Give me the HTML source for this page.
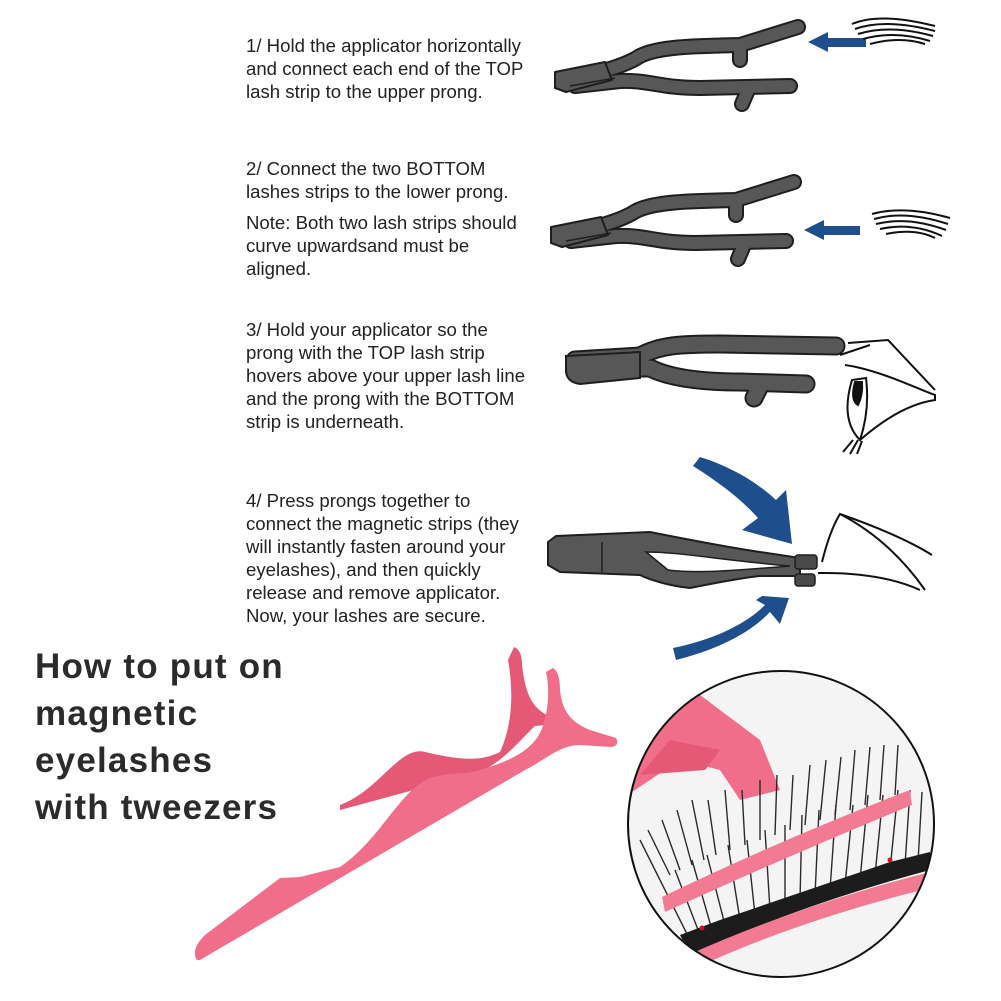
<!DOCTYPE html>
<html><head><meta charset="utf-8"><style>
html,body{margin:0;padding:0;background:#fff;}
body{width:1001px;height:1001px;position:relative;overflow:hidden;}
.t{position:absolute;left:246px;font-family:"Liberation Sans",sans-serif;font-size:18.6px;line-height:23px;color:#222;white-space:nowrap;}
.h{position:absolute;left:35px;font-family:"Liberation Sans",sans-serif;font-weight:bold;font-size:35px;line-height:47px;color:#2b2b2b;white-space:nowrap;letter-spacing:1.2px;}
svg{position:absolute;left:0;top:0;}
</style></head><body>
<svg width="1001" height="1001" viewBox="0 0 1001 1001">
<defs>
<g id="twp" fill="none" stroke-linecap="round" stroke-linejoin="round">
<path d="M570,80 C600,72 625,66 640,56 C660,46 700,46 740,45 L798,27"/>
<path d="M740,46 L740,60"/>
<path d="M575,86 L620,81 C650,80 660,88 700,88 L790,86"/>
<path d="M748,90 L742,104"/>
</g>
<g id="tw">
<use href="#twp" stroke="#1e1e1e" stroke-width="16"/>
<use href="#twp" stroke="#575757" stroke-width="12"/>
<path d="M555,72 L605,62 L612,80 L566,92 L555,88 Z" fill="#575757" stroke="#1e1e1e" stroke-width="2" stroke-linejoin="round"/>
<path d="M570,86 L615,78" stroke="#1e1e1e" stroke-width="1.5"/>
</g>
<clipPath id="cc"><circle cx="781" cy="824" r="153"/></clipPath>
</defs>
<use href="#tw"/>
<use href="#tw" transform="translate(-4,155)"/>
<!-- tweezer 3 -->
<g fill="none" stroke-linecap="round" stroke-linejoin="round">
<g stroke="#1e1e1e" stroke-width="19">
<path d="M575,360 L640,356 C660,345 680,344 720,344 L836,346"/>
<path d="M630,368 L650,368 C670,378 700,382 740,382 L806,384"/>
<path d="M760,386 L754,398"/>
</g>
<g stroke="#575757" stroke-width="15">
<path d="M575,360 L640,356 C660,345 680,344 720,344 L836,346"/>
<path d="M630,368 L650,368 C670,378 700,382 740,382 L806,384"/>
<path d="M760,386 L754,398"/>
</g>
</g>
<path d="M566,356 L640,352 L640,378 L580,384 Q566,382 566,370 Z" fill="#575757" stroke="#1e1e1e" stroke-width="2"/>
<!-- eye 3 -->
<g fill="none" stroke="#111" stroke-width="2">
<path d="M848,343 L888,340 L935,390 M840,355 L870,345 M845,365 C880,370 920,390 935,395 L935,400 Q900,405 860,440"/>
<path d="M852,380 Q840,420 860,440 Q870,410 866,378 Z" fill="#fff"/>
<path d="M855,382 Q850,400 858,405 Q863,395 862,382 Z" fill="#111"/>
<path d="M843,452 L853,440 M850,454 L858,440 M857,454 L862,441"/>
</g>
<!-- tweezer 4 -->
<path d="M548,542 L556,536 L650,532 C680,538 720,546 760,552 L800,558 L800,576 L760,576 C740,578 710,584 690,588 C670,586 650,580 640,575 L560,572 L548,565 Z" fill="#575757" stroke="#1e1e1e" stroke-width="2" stroke-linejoin="round"/>
<path d="M646,552 C680,552 720,560 790,566 C740,570 700,574 668,570 Z" fill="#fff" stroke="#1e1e1e" stroke-width="1.5"/>
<path d="M602,542 L602,572" stroke="#1e1e1e" stroke-width="1.5"/>
<rect x="795" y="555" width="22" height="14" rx="3" fill="#4a4a4a" stroke="#1e1e1e" stroke-width="1.5"/>
<rect x="795" y="574" width="20" height="12" rx="3" fill="#4a4a4a" stroke="#1e1e1e" stroke-width="1.5"/>
<g fill="none" stroke="#111" stroke-width="2">
<path d="M822,562 Q830,530 840,514 Q900,535 932,555 M840,514 Q890,540 925,590 M818,573 Q880,572 920,590"/>
</g>
<!-- blue arrows -->
<g fill="#1f4e8c">
<rect x="826" y="38" width="40" height="9"/><polygon points="808,42 828,32 828,52"/>
<rect x="822" y="226" width="38" height="9"/><polygon points="804,230 824,220 824,240"/>
<path d="M693,466 L700,457 C735,468 760,485 776,500 L786,490 L792,544 L742,530 L758,518 C742,500 720,483 693,466 Z"/>
<path d="M673,648 L676,660 C715,650 748,635 770,612 L780,624 L789,598 L762,596 L756,600 L765,605 C745,625 712,640 673,648 Z"/>
</g>
<!-- lashes at top right -->
<g fill="none" stroke="#111" stroke-width="2">
<path d="M852,24 Q880,12 935,26 M855,29 Q885,18 935,31 M858,34 Q890,24 933,36 M863,39 Q895,30 930,41 M870,44 Q900,36 925,44"/>
<path d="M872,214 Q905,205 950,218 M874,219 Q905,210 948,224 M876,224 Q908,216 946,230 M880,229 Q912,222 942,236 M886,234 Q915,228 935,238"/>
</g>
<!-- pink tweezer back -->
<path d="M340,805 C380,790 400,745 425,752 C460,760 480,762 500,752 C510,730 515,700 508,660 L514,647 Q522,650 522,665 C525,690 530,705 545,714 L560,716 L556,724 L535,726 C520,740 505,760 480,772 L340,810 Z" fill="#e55876"/>
<!-- pink tweezer front -->
<path d="M197,960 Q190,950 205,935 L280,878 L300,877 L340,867 C380,840 400,790 430,778 C450,772 465,775 480,770 C520,758 540,745 545,718 C550,700 548,680 546,672 L553,668 Q560,672 560,690 C562,710 570,722 590,730 L616,738 Q620,745 612,747 L580,745 C560,745 545,760 525,770 L200,960 Z" fill="#f06e8a"/>
<!-- circle inset -->
<g clip-path="url(#cc)">
<rect x="620" y="660" width="330" height="330" fill="#f4f4f4"/>
<path d="M620,690 L700,695 L760,740 L780,790 L740,800 L720,770 L680,760 L620,800 Z" fill="#f06e8a"/>
<path d="M670,740 L720,750 L705,770 L640,775 Z" fill="#e55876"/>
<g stroke="#2a2a2a" stroke-width="1.4" fill="none">
<path d="M660,880 l-20,-40 M670,875 l-22,-45 M680,870 l-18,-50 M692,865 l-15,-55 M704,860 l-12,-60 M716,855 l-8,-55 M730,850 l-5,-60 M745,845 l-3,-55 M760,840 l0,-60 M775,835 l2,-60 M790,830 l3,-55 M805,825 l5,-60 M820,820 l6,-60 M835,815 l6,-58 M850,810 l5,-60 M865,805 l5,-58 M880,800 l4,-55 M895,795 l3,-50"/>
<path d="M690,940 l-30,-60 M700,935 l-25,-65 M712,930 l-20,-70 M725,925 l-18,-70 M740,920 l-12,-75 M755,915 l-8,-75 M770,910 l-5,-80 M785,905 l0,-80 M800,900 l2,-85 M815,895 l4,-85 M830,890 l6,-85 M845,885 l8,-80 M860,880 l8,-85 M875,875 l8,-80 M890,870 l8,-80 M905,865 l5,-75 M918,862 l4,-70"/>
</g>
<path d="M662,897 Q780,840 910,790 L912,805 Q790,855 665,912 Z" fill="#f27a93"/>
<path d="M680,935 L720,920 L890,862 L930,852 L930,870 Q800,905 690,955 Z" fill="#1c1c1c"/>
<path d="M688,955 Q800,905 930,872 L930,888 Q800,920 695,968 Z" fill="#f27a93"/>
<circle cx="702" cy="928" r="2.5" fill="#d0102a"/><circle cx="890" cy="860" r="2.5" fill="#d0102a"/>
</g>
<circle cx="781" cy="824" r="153" fill="none" stroke="#111" stroke-width="2"/>
</svg>
<div class="t" style="top:34px">1/ Hold the applicator horizontally<br>and connect each end of the TOP<br>lash strip to the upper prong.</div>
<div class="t" style="top:157px">2/ Connect the two BOTTOM<br>lashes strips to the lower prong.</div>
<div class="t" style="top:211px">Note: Both two lash strips should<br>curve upwardsand must be<br>aligned.</div>
<div class="t" style="top:318px">3/ Hold your applicator so the<br>prong with the TOP lash strip<br>hovers above your upper lash line<br>and the prong with the BOTTOM<br>strip is underneath.</div>
<div class="t" style="top:489px">4/ Press prongs together to<br>connect the magnetic strips (they<br>will instantly fasten around your<br>eyelashes), and then quickly<br>release and remove applicator.<br>Now, your lashes are secure.</div>
<div class="h" style="top:643px">How to put on<br>magnetic<br>eyelashes<br>with tweezers</div>
</body></html>
